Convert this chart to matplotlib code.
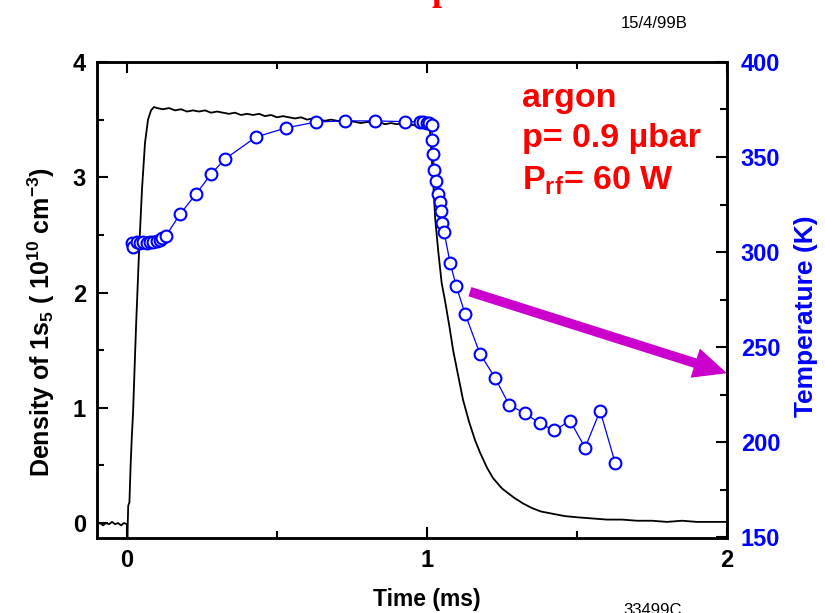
import matplotlib
matplotlib.use('Agg')
import matplotlib.pyplot as plt
from matplotlib.ticker import MultipleLocator

plt.rcParams['font.family'] = ['Liberation Sans', 'DejaVu Sans']
plt.rcParams['font.weight'] = 'bold'
plt.rcParams['mathtext.fontset'] = 'custom'
plt.rcParams['mathtext.rm'] = 'Liberation Sans:bold'
plt.rcParams['mathtext.it'] = 'Liberation Sans:bold'
plt.rcParams['mathtext.bf'] = 'Liberation Sans:bold'

# density of 1s5 (1e10 cm-3) vs time (ms)
t_dens = [-0.10, -0.09, -0.08, -0.07, -0.06, -0.05, -0.04, -0.03, -0.02, -0.01,
          0.0, 0.001, 0.004, 0.008, 0.012, 0.016, 0.02, 0.03, 0.04, 0.05,
          0.06, 0.07, 0.08, 0.09,
          0.10, 0.12, 0.14, 0.16, 0.18, 0.20, 0.22, 0.24, 0.26, 0.28,
          0.30, 0.32, 0.34, 0.36, 0.38, 0.40, 0.42, 0.44, 0.46, 0.48,
          0.50, 0.52, 0.54, 0.56, 0.58, 0.60, 0.62, 0.64, 0.66, 0.68,
          0.70, 0.72, 0.74, 0.76, 0.78, 0.80, 0.82, 0.84, 0.86, 0.88,
          0.90, 0.92, 0.94, 0.96, 0.98, 1.00, 1.005,
          1.01, 1.02, 1.027, 1.037, 1.049, 1.06, 1.075, 1.087, 1.10, 1.12,
          1.14, 1.16, 1.177, 1.20, 1.22, 1.25, 1.29, 1.32, 1.35, 1.38,
          1.42, 1.46, 1.50, 1.55, 1.60, 1.65, 1.70, 1.75, 1.80, 1.85,
          1.90, 1.95, 2.00]
dens = [-0.01, 0.00, -0.02, 0.00, -0.01, 0.01, -0.01, 0.00, -0.02, 0.00,
        -0.01, -0.15, 0.15, 0.18, 0.50, 0.75, 0.95, 1.70, 2.35, 2.90,
        3.30, 3.50, 3.58, 3.61,
        3.60, 3.59, 3.60, 3.58, 3.59, 3.57, 3.58, 3.57, 3.58, 3.56,
        3.57, 3.56, 3.55, 3.56, 3.54, 3.55, 3.54, 3.55, 3.53, 3.54,
        3.52, 3.53, 3.52, 3.51, 3.52, 3.50, 3.51, 3.50, 3.49, 3.50,
        3.49, 3.48, 3.49, 3.48, 3.47, 3.48, 3.47, 3.48, 3.46, 3.47,
        3.46, 3.47, 3.46, 3.45, 3.46, 3.45, 3.45,
        3.40, 3.00, 2.65, 2.37, 2.08, 1.93, 1.70, 1.50, 1.33, 1.07,
        0.88, 0.72, 0.61, 0.48, 0.39, 0.30, 0.22, 0.17, 0.13, 0.10,
        0.08, 0.06, 0.05, 0.04, 0.03, 0.03, 0.02, 0.02, 0.01, 0.02,
        0.01, 0.01, 0.01]

# temperature (K) vs time (ms)
t_temp = [0.016, 0.021, 0.032, 0.043, 0.054, 0.066, 0.077, 0.088, 0.099, 0.11,
          0.116, 0.13, 0.177, 0.23, 0.28, 0.327, 0.43, 0.53, 0.63, 0.727,
          0.827, 0.927, 0.977, 0.988, 0.999, 1.008, 1.016, 1.018, 1.021, 1.024,
          1.030, 1.038, 1.043, 1.047, 1.051, 1.057, 1.077, 1.097, 1.127, 1.177,
          1.227, 1.274, 1.326, 1.377, 1.424, 1.477, 1.527, 1.577, 1.627]
temp = [304.6, 302.8, 305.4, 304.9, 305.4, 304.9, 305.4, 305.4, 306.0, 306.3,
        307.2, 308.6, 320.0, 330.5, 341.0, 349.0, 360.5, 365.3, 368.4, 369.0,
        369.0, 368.6, 368.6, 368.3, 368.1, 367.7, 366.8, 358.9, 351.4, 343.2,
        337.5, 330.5, 326.2, 321.6, 315.4, 310.4, 294.4, 282.3, 267.4, 246.3,
        233.8, 219.5, 215.1, 209.8, 206.1, 211.2, 197.0, 216.5, 189.1]

fig = plt.figure(figsize=(8.25, 6.13), dpi=100)
ax = fig.add_axes([0.1176, 0.1223, 0.7636, 0.7766])

ax.plot(t_dens, dens, color='black', lw=1.3, zorder=2)
ax.set_xlim(-0.1, 2.0)
ax.set_ylim(-0.13, 4.0)
ax.xaxis.set_major_locator(MultipleLocator(1))
ax.xaxis.set_minor_locator(MultipleLocator(0.5))
ax.yaxis.set_major_locator(MultipleLocator(1))
ax.yaxis.set_minor_locator(MultipleLocator(0.5))
ax.tick_params(which='both', direction='in', top=True, labelsize=17, width=1.5, pad=8)
ax.tick_params(which='major', length=8)
ax.tick_params(which='minor', length=5)
for s in ax.spines.values():
    s.set_linewidth(1.8)

ax.set_xlabel('Time (ms)', fontsize=16.5, fontweight='bold')
ax.xaxis.set_label_coords(0.524, -0.106)
ax.set_ylabel(r'Density of 1s$_5$ ( 10$^{10}$ cm$^{-3}$)', fontsize=18,
              fontweight='bold')
ax.yaxis.set_label_coords(-0.063, 0.454)

ax2 = ax.twinx()
ax2.plot(t_temp, temp, color='blue', lw=0.9, marker='o', ms=8.5,
         mfc='white', mec='blue', mew=1.5, zorder=3)
ax2.set_ylim(149.5, 400)
ax2.yaxis.set_major_locator(MultipleLocator(50))
ax2.yaxis.set_minor_locator(MultipleLocator(25))
ax2.tick_params(which='both', direction='in', labelsize=17, width=1.5,
                labelcolor='blue', pad=10)
ax2.tick_params(which='major', length=8)
ax2.tick_params(which='minor', length=5)
ax2.set_ylabel('Temperature (K)', fontsize=19, fontweight='bold', color='blue')
ax2.yaxis.set_label_coords(1.106, 0.466)
for s in ax2.spines.values():
    s.set_linewidth(1.8)

ax.annotate('', xy=(2.0, 1.30), xytext=(1.143, 2.007),
            arrowprops=dict(arrowstyle='simple,head_length=24,head_width=22,tail_width=7',
                            mutation_scale=1, lw=0, color='#cc00cc',
                            shrinkA=0, shrinkB=0),
            zorder=5)

red_kw = dict(color='red', fontsize=24.5, fontweight='bold', transform=ax.transAxes)
ax.text(0.675, 0.905, 'argon', **red_kw)
ax.text(0.675, 0.821, 'p= 0.9 µbar', **red_kw)
ax.text(0.675, 0.731, r'P$_{rf}$= 60 W', **red_kw)

fig.text(0.752, 0.955, '15/4/99B', fontsize=12, fontweight='normal')
fig.text(0.755, 0.0163, '33499C', fontsize=12, fontweight='normal', va='top')
fig.text(0.535, 1.0, 'p', fontsize=26, color='red', fontweight='bold',
         family='Liberation Serif', va='baseline', ha='center')

fig.savefig('out.png', dpi=100)
